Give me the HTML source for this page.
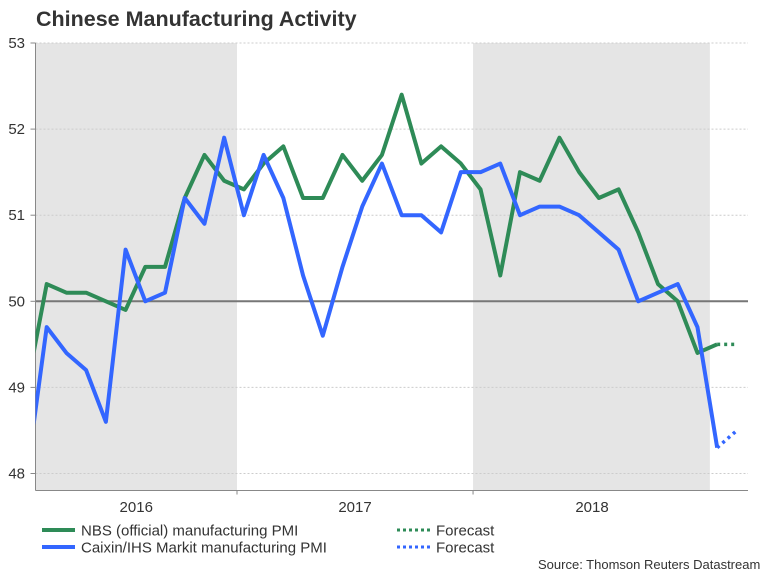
<!DOCTYPE html>
<html><head><meta charset="utf-8"><style>
body{margin:0;background:#fff;}
svg{display:block;font-family:"Liberation Sans",Arial,sans-serif;}
</style></head><body>
<svg id="chart" width="768" height="576">
<text x="36" y="26" font-size="21.5" font-weight="bold" fill="#333">Chinese Manufacturing Activity</text>
<g id="bands"></g><g id="grid"></g><g id="axes"></g><g id="series"></g>
<g>
<line x1="42" y1="530" x2="75" y2="530" stroke="#2e8b57" stroke-width="4"/>
<text x="81" y="535.5" font-size="15" fill="#333">NBS (official) manufacturing PMI</text>
<line x1="42" y1="547" x2="75" y2="547" stroke="#3366ff" stroke-width="4"/>
<text x="81" y="552.5" font-size="15" fill="#333">Caixin/IHS Markit manufacturing PMI</text>
<line x1="397" y1="530" x2="430" y2="530" stroke="#2e8b57" stroke-width="3" stroke-dasharray="3,3"/>
<text x="436" y="535.5" font-size="15" fill="#333">Forecast</text>
<line x1="397" y1="547" x2="430" y2="547" stroke="#3366ff" stroke-width="3" stroke-dasharray="3,3"/>
<text x="436" y="552.5" font-size="15" fill="#333">Forecast</text>
</g>
<text x="538" y="569" font-size="13" fill="#333">Source: Thomson Reuters Datastream</text>
</svg>
<script>
// month index 0 = Feb 2016
const nbs = [49.0,50.2,50.1,50.1,50.0,49.9,50.4,50.4,51.2,51.7,51.4,51.3,51.6,51.8,51.2,51.2,51.7,51.4,51.7,52.4,51.6,51.8,51.6,51.3,50.3,51.5,51.4,51.9,51.5,51.2,51.3,50.8,50.2,50.0,49.4,49.5];
const caixin = [48.0,49.7,49.4,49.2,48.6,50.6,50.0,50.1,51.2,50.9,51.9,51.0,51.7,51.2,50.3,49.6,50.4,51.1,51.6,51.0,51.0,50.8,51.5,51.5,51.6,51.0,51.1,51.1,51.0,50.8,50.6,50.0,50.1,50.2,49.7,48.3];
const nbsForecast = [49.5,49.5];
const caixinForecast = [48.3,48.5];
const yTicks = [48,49,50,51,52,53];
const years = ["2016","2017","2018"];
const yearStarts = [-0.6,10.65,22.62,34.63]; // month-index boundaries of year spans
const shadedYears = [0,2];

const NS="http://www.w3.org/2000/svg";
const L=35.5,R=748,T=43,B=490.5;
const x=i=>46.7+(i-1)*19.72;
const y=v=>473.5-(v-48)*86.1;
function mk(tag,attrs,parent){const e=document.createElementNS(NS,tag);for(const k in attrs)e.setAttribute(k,attrs[k]);document.getElementById(parent).appendChild(e);return e;}

shadedYears.forEach(k=>{
  const r=mk('rect',{x:Math.max(L,x(yearStarts[k])),y:T,width:x(yearStarts[k+1])-Math.max(L,x(yearStarts[k])),height:B-T,fill:'#e5e5e5'},'bands');
  
  
});
yTicks.forEach(v=>{
  if(v!==50){const g=mk('line',{x1:L,x2:R,y1:y(v),y2:y(v),stroke:'#ccc','stroke-dasharray':'2,2','stroke-width':1},'grid');
  
  }
  const t=mk('line',{x1:L-5,x2:L,y1:y(v),y2:y(v),stroke:'#888'},'axes');
  
  
  const lb=mk('text',{x:25,y:y(v)+5,'text-anchor':'end','font-size':15,fill:'#333'},'axes');
  lb.textContent=v;
  
  
});
const z=mk('line',{x1:L,x2:R,y1:y(50),y2:y(50),stroke:'#777','stroke-width':2},'axes');


const ya=mk('line',{x1:L,x2:L,y1:T,y2:B,stroke:'#888'},'axes');


const xa=mk('line',{x1:L,x2:R,y1:B,y2:B,stroke:'#888'},'axes');


years.forEach((yr,k)=>{
  const a=Math.max(L,x(yearStarts[k])),b=Math.min(R,x(yearStarts[k+1]));
  const lb=mk('text',{x:k===2?592:(a+b)/2,y:512,'text-anchor':'middle','font-size':15,fill:'#333'},'axes');
  lb.textContent=yr;
  
  
  if(k>0){const t=mk('line',{x1:x(yearStarts[k]),x2:x(yearStarts[k]),y1:B,y2:B+4,stroke:'#888'},'axes');
  
  }
});
const cp=mk('clipPath',{id:'clip'},'series');
const cr=document.createElementNS(NS,'rect');
cr.setAttribute('x',L);cr.setAttribute('y',T);cr.setAttribute('width',R-L);cr.setAttribute('height',B-T);
cp.appendChild(cr);
function line(vals,start,color,dash,name){
  const p=mk('polyline',{points:vals.map((v,i)=>x(start+i)+','+y(v)).join(' '),fill:'none',stroke:color,'stroke-width':dash?3.5:4,'stroke-linejoin':'round','clip-path':'url(#clip)'},'series');
  if(dash)p.setAttribute('stroke-dasharray','3,4');
  
  
}
line(nbs,0,'#2e8b57',false,'nbs-line');
line(caixin,0,'#3366ff',false,'caixin-line');
line(nbsForecast,nbs.length-1,'#2e8b57',true,'nbs-forecast-line');
line(caixinForecast,caixin.length-1,'#3366ff',true,'caixin-forecast-line');
</script>
</body></html>
